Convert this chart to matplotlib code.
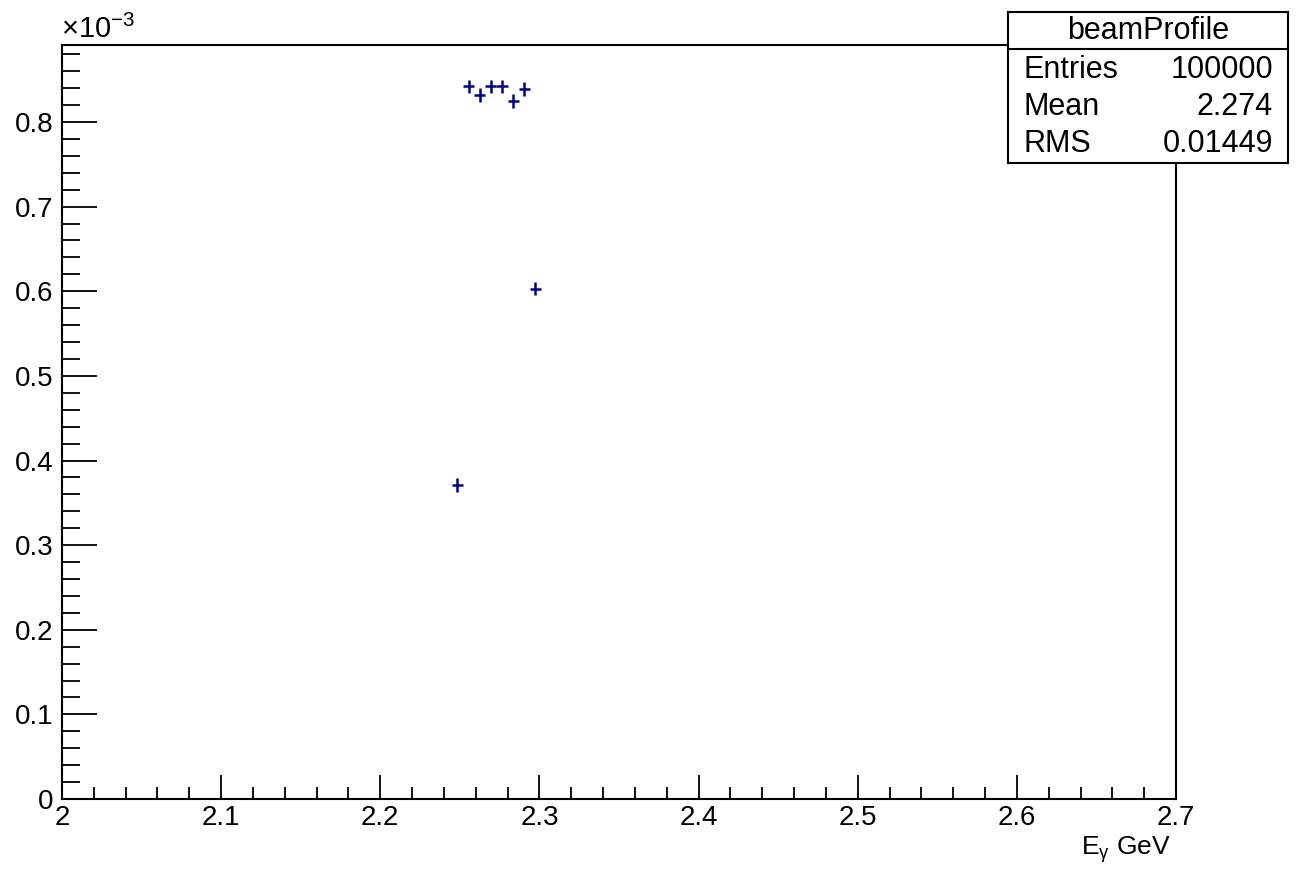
import numpy as np
import matplotlib
matplotlib.use("Agg")
import matplotlib.pyplot as plt
from matplotlib.ticker import MultipleLocator, FuncFormatter
from matplotlib.patches import Rectangle
from matplotlib.lines import Line2D

plt.rcParams['font.family'] = ['Liberation Sans', 'DejaVu Sans']
plt.rcParams['mathtext.fontset'] = 'custom'
plt.rcParams['mathtext.rm'] = 'Liberation Sans'
plt.rcParams['mathtext.it'] = 'Liberation Sans'

# histogram bins that are filled (bin width 0.007 GeV)
bin_centers = [2.2485, 2.2555, 2.2625, 2.2695, 2.2765, 2.2835, 2.2905, 2.2975]
counts = [0.000371, 0.000842, 0.000832, 0.000842, 0.000842, 0.000825, 0.000839, 0.000603]
count_err = [0.000008] * 8
bin_width = 0.007

hist_name = "beamProfile"
stat_names = ["Entries", "Mean", "RMS"]
stat_values = ["100000", "2.274", "0.01449"]

W, H = 1298, 872
fig = plt.figure(figsize=(W / 100, H / 100), dpi=100)
ax = fig.add_axes([62 / W, 1 - 799 / H, (1176 - 62) / W, (799 - 45) / H])

scale = 1e3
ax.errorbar(bin_centers, np.array(counts) * scale, xerr=bin_width / 2,
            yerr=np.array(count_err) * scale, fmt='none', ecolor='#000080',
            elinewidth=1.8, capsize=0)

ax.set_xlim(2.0, 2.7)
ax.set_ylim(0, 0.891)

ax.xaxis.set_major_locator(MultipleLocator(0.1))
ax.xaxis.set_minor_locator(MultipleLocator(0.02))
ax.yaxis.set_major_locator(MultipleLocator(0.1))
ax.yaxis.set_minor_locator(MultipleLocator(0.02))
ax.xaxis.set_major_formatter(FuncFormatter(lambda v, p: f"{int(round(v))}" if abs(v - round(v)) < 1e-9 else f"{v:.1f}"))
ax.yaxis.set_major_formatter(FuncFormatter(lambda v, p: "0" if abs(v) < 1e-9 else f"{v:.1f}"))

ax.tick_params(axis='x', which='major', direction='in', length=17, width=1.3, labelsize=20, pad=4)
ax.tick_params(axis='x', which='minor', direction='in', length=9, width=1.3)
ax.tick_params(axis='y', which='major', direction='in', length=25, width=1.3, labelsize=20, pad=6)
ax.tick_params(axis='y', which='minor', direction='in', length=13, width=1.3)
for s in ax.spines.values():
    s.set_linewidth(1.5)

fig.text(61 / W, 1 - 38 / H, r"$\times10^{-3}$", fontsize=21, ha='left', va='baseline')
fig.text(1171 / W, 1 - 855 / H, r"E$_{\gamma}$ GeV", fontsize=19, ha='right', va='baseline')

# stats box
x0, x1 = 1008 / W, 1288 / W
y_top, y_sep, y_bot = 1 - 12 / H, 1 - 49 / H, 1 - 163 / H
fig.patches.append(Rectangle((x0, y_bot), x1 - x0, y_top - y_bot, transform=fig.transFigure,
                             facecolor='white', edgecolor='black', linewidth=1.5, zorder=5))
fig.lines.append(Line2D([x0, x1], [y_sep, y_sep], transform=fig.transFigure,
                        color='black', linewidth=1.5, zorder=6))
fig.text((x0 + x1) / 2, 1 - 31 / H, hist_name, fontsize=22, ha='center', va='center', zorder=7)
row_y = [70, 107, 144]
for name, val, ry in zip(stat_names, stat_values, row_y):
    fig.text(1023 / W, 1 - ry / H, name, fontsize=22, ha='left', va='center', zorder=7)
    fig.text(1273 / W, 1 - ry / H, val, fontsize=22, ha='right', va='center', zorder=7)

fig.savefig("out.png", dpi=100)
